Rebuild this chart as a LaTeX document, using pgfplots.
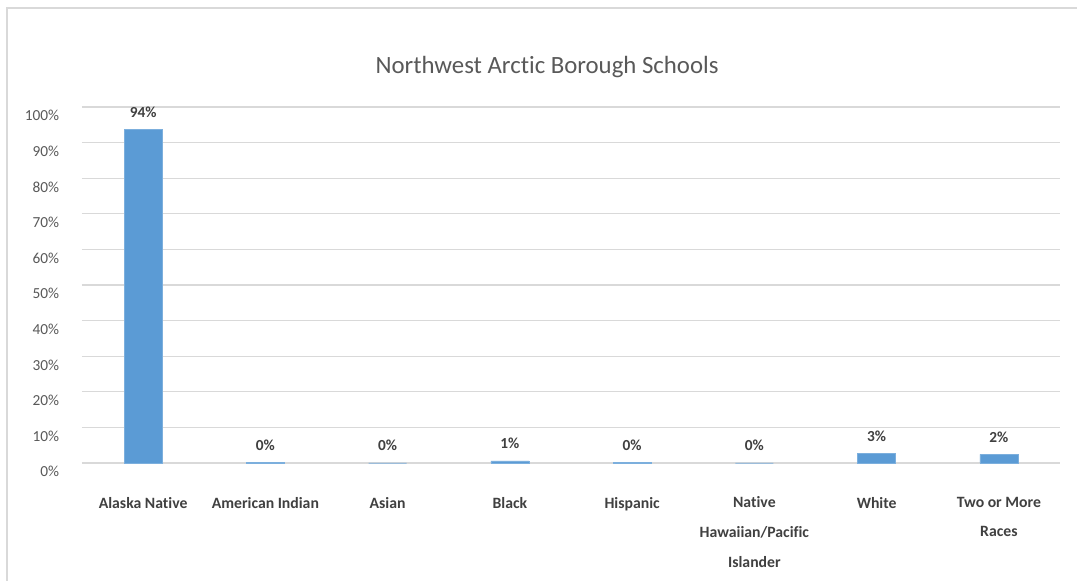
\documentclass[border=0pt]{standalone}
\usepackage{pgfplots}
\pgfplotsset{compat=1.18}
\usepackage{fontspec}
\setmainfont{Carlito}[Ligatures=NoCommon]
\definecolor{barblue}{HTML}{5B9BD5}
\definecolor{gridgray}{HTML}{D9D9D9}
\definecolor{ticktext}{HTML}{595959}
\definecolor{labtext}{HTML}{404040}
\begin{document}
\begin{tikzpicture}
\useasboundingbox (0,0) rectangle (807.75pt,435.75pt);
\fill[white] (0,0) rectangle (807.75pt,435.75pt);
\draw[gridgray, line width=1pt] (5.25pt,0) -- (5.25pt,429.75pt) -- (807.75pt,429.75pt);
\node[text=ticktext, font=\fontsize{18.6}{22}\selectfont] at (410.25pt,385.5pt) {Northwest Arctic Borough Schools};
\begin{axis}[
  at={(61.5pt,88.5pt)}, anchor=south west,
  scale only axis, width=733.5pt, height=267pt,
  xmin=-0.5, xmax=7.5, ymin=0, ymax=100,
  enlargelimits=false, clip=false,
  ybar, bar width=28.5pt,
  axis line style={draw=none},
  major tick style={draw=none},
  ymajorgrids, grid style={gridgray, line width=0.9pt},
  ytick={0,10,...,100},
  yticklabel={\pgfmathprintnumber{\tick}\%},
  /pgf/number format/assume math mode=true,
  yticklabel style={text=ticktext, font=\fontsize{11.5}{14}\selectfont, anchor=east, inner xsep=0pt, xshift=-17pt, yshift=-6.5pt},
  xtick=data,
  xticklabels={{Alaska Native},{American Indian},{Asian},{Black},{Hispanic},{Native\\Hawaiian/Pacific\\Islander},{White},{Two or More\\Races}},
  xticklabel style={text=labtext, font=\bfseries\fontsize{11.8}{22.3}\selectfont, align=center, anchor=north, inner ysep=0pt, yshift=-21pt, execute at begin node={\rule{0pt}{9pt}}},
  nodes near coords={\pgfmathprintnumber[fixed,precision=0]{\pgfplotspointmeta}\%},
  every node near coord/.append style={text=labtext, font=\bfseries\fontsize{11.5}{14}\selectfont, anchor=base, yshift=9pt, /pgf/number format/assume math mode=true},
]
\addplot[fill=barblue, draw=barblue!80!white, line width=0.4pt] coordinates {
  (0,93.8) (1,0.2) (2,0.0) (3,0.6) (4,0.2) (5,0.0) (6,2.8) (7,2.4)
};
\end{axis}
\end{tikzpicture}
\end{document}
